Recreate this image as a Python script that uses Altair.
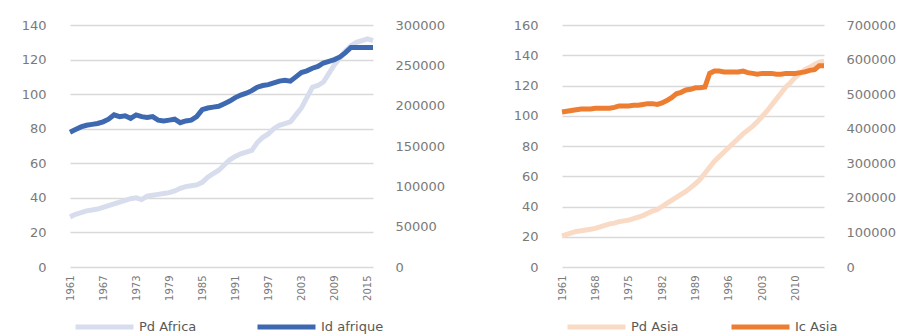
import altair as alt
import pandas as pd

years = list(range(1961, 2017))

pd_africa = [29, 30.5, 31.5, 32.5, 33, 33.5, 34.5, 35.5, 36.5, 37.5,
             38.5, 39.5, 40, 39, 41, 41.5, 42, 42.5, 43, 44,
             45.5, 46.5, 47, 47.5, 49, 52, 54, 56, 59, 62,
             64, 65.5, 66.5, 67.5, 72, 75, 77, 80, 82, 83,
             84, 88, 92, 98, 104, 105, 107, 112, 117, 121,
             125, 128, 130, 131, 132, 131]

id_afrique = [167100, 170400, 173600, 175700, 176800, 177900, 180000, 183200, 188600, 186400,
              187500, 184300, 188600, 186400, 185400, 186400, 182100, 181100, 182100, 183200,
              178900, 181100, 182100, 186400, 195000, 197100, 198200, 199300, 202500, 205700,
              210000, 213200, 215400, 218600, 222900, 225000, 226100, 228200, 230400, 231400,
              230400, 235700, 241100, 243200, 246400, 248600, 252900, 255000, 257100, 260400,
              265700, 272100, 272100, 272100, 272100, 272100]

pd_asia = [20.5, 21.5, 22.5, 23.5, 24, 24.5, 25, 25.5, 26.5, 27.5,
           28.5, 29, 30, 30.5, 31, 32, 33, 34, 35.5, 37,
           38, 40, 42, 44, 46, 48, 50, 52.5, 55, 58,
           62, 66, 70, 73, 76, 79, 82, 85, 88, 90.5,
           93, 96, 99.5, 103, 107, 111, 115, 119, 122, 125.5,
           128, 130.5, 132, 134, 135.5, 136]

ic_asia = [448400, 450600, 452800, 455000, 457200, 457200, 457200, 459400, 459400, 459400,
           459400, 461600, 465900, 465900, 465900, 468100, 468100, 470300, 472500, 472500,
           470300, 474700, 481300, 490000, 500900, 505300, 511900, 514100, 518400, 518400,
           520600, 560000, 566600, 566600, 564400, 564400, 564400, 564400, 566600, 562200,
           560000, 557800, 560000, 560000, 560000, 557800, 557800, 560000, 560000, 560000,
           562200, 564400, 568800, 570900, 581900, 581900]

africa_ticks = [1961, 1967, 1973, 1979, 1985, 1991, 1997, 2003, 2009, 2015]
asia_ticks = [1961, 1968, 1975, 1982, 1989, 1996, 2003, 2010]

africa_left_ticks = [0, 20, 40, 60, 80, 100, 120, 140]
africa_right_ticks = [0, 50000, 100000, 150000, 200000, 250000, 300000]
asia_left_ticks = [0, 20, 40, 60, 80, 100, 120, 140, 160]
asia_right_ticks = [0, 100000, 200000, 300000, 400000, 500000, 600000, 700000]

TEXT = "#7a7a7a"
FONT = "DejaVu Sans"


def panel(lvals, rvals, lname, rname, light, dark, lticks, rticks, xticks, width, col_pad):
    df_l = pd.DataFrame({"year": years, "value": lvals, "series": lname})
    df_r = pd.DataFrame({"year": years, "value": rvals, "series": rname})
    color = alt.Color(
        "series:N",
        scale=alt.Scale(domain=[lname, rname], range=[light, dark]),
        legend=alt.Legend(
            orient="none", legendX=3, legendY=294, direction="horizontal",
            title=None, symbolType="stroke", symbolSize=3364, symbolStrokeWidth=5,
            clipHeight=16, labelFontSize=13, labelColor="#595959", labelFont=FONT,
            labelOffset=3, columnPadding=col_pad, padding=0,
        ),
    )
    x = alt.X(
        "year:Q",
        scale=alt.Scale(domain=[1961, 2016], nice=False, zero=False),
        axis=alt.Axis(values=xticks, format="d", labelAngle=270, title=None, grid=False,
                      domain=False, ticks=False, tickSize=0, labelPadding=8,
                      labelFontSize=10, labelColor=TEXT, labelFont=FONT),
    )
    left = alt.Chart(df_l).mark_line(strokeWidth=5).encode(
        x=x,
        y=alt.Y("value:Q",
                scale=alt.Scale(domain=[lticks[0], lticks[-1]], nice=False),
                axis=alt.Axis(values=lticks, orient="left", title=None, grid=True,
                              gridColor="#d9d9d9", gridWidth=1.3, domain=False, ticks=False,
                              tickSize=0, labelPadding=24, labelFontSize=13,
                              labelColor=TEXT, labelFont=FONT, format="d")),
        color=color,
    )
    right = alt.Chart(df_r).mark_line(strokeWidth=5).encode(
        x=x,
        y=alt.Y("value:Q",
                scale=alt.Scale(domain=[rticks[0], rticks[-1]], nice=False),
                axis=alt.Axis(values=rticks, orient="right", title=None, grid=False,
                              domain=False, ticks=False, tickSize=0, labelPadding=22,
                              labelFontSize=13, labelColor=TEXT, labelFont=FONT,
                              format="d")),
        color=color,
    )
    return alt.layer(left, right).resolve_scale(y="independent").properties(width=width, height=242)


africa = panel(pd_africa, id_afrique, "Pd  Africa", "Id  afrique", "#d7dded", "#3e69b0",
               africa_left_ticks, africa_right_ticks, africa_ticks, 303, 54)
asia = panel(pd_asia, ic_asia, "Pd  Asia", "Ic  Asia", "#f9dac5", "#ed7d31",
             asia_left_ticks, asia_right_ticks, asia_ticks, 262, 46)

chart = (
    alt.hconcat(africa, asia, spacing=68)
    .resolve_scale(color="independent")
    .properties(padding={"left": 21, "top": 19, "right": 0, "bottom": 0}, background="white")
    .configure_view(stroke=None)
)

chart.save("out.html", embed_options={"renderer": "svg", "actions": False})
